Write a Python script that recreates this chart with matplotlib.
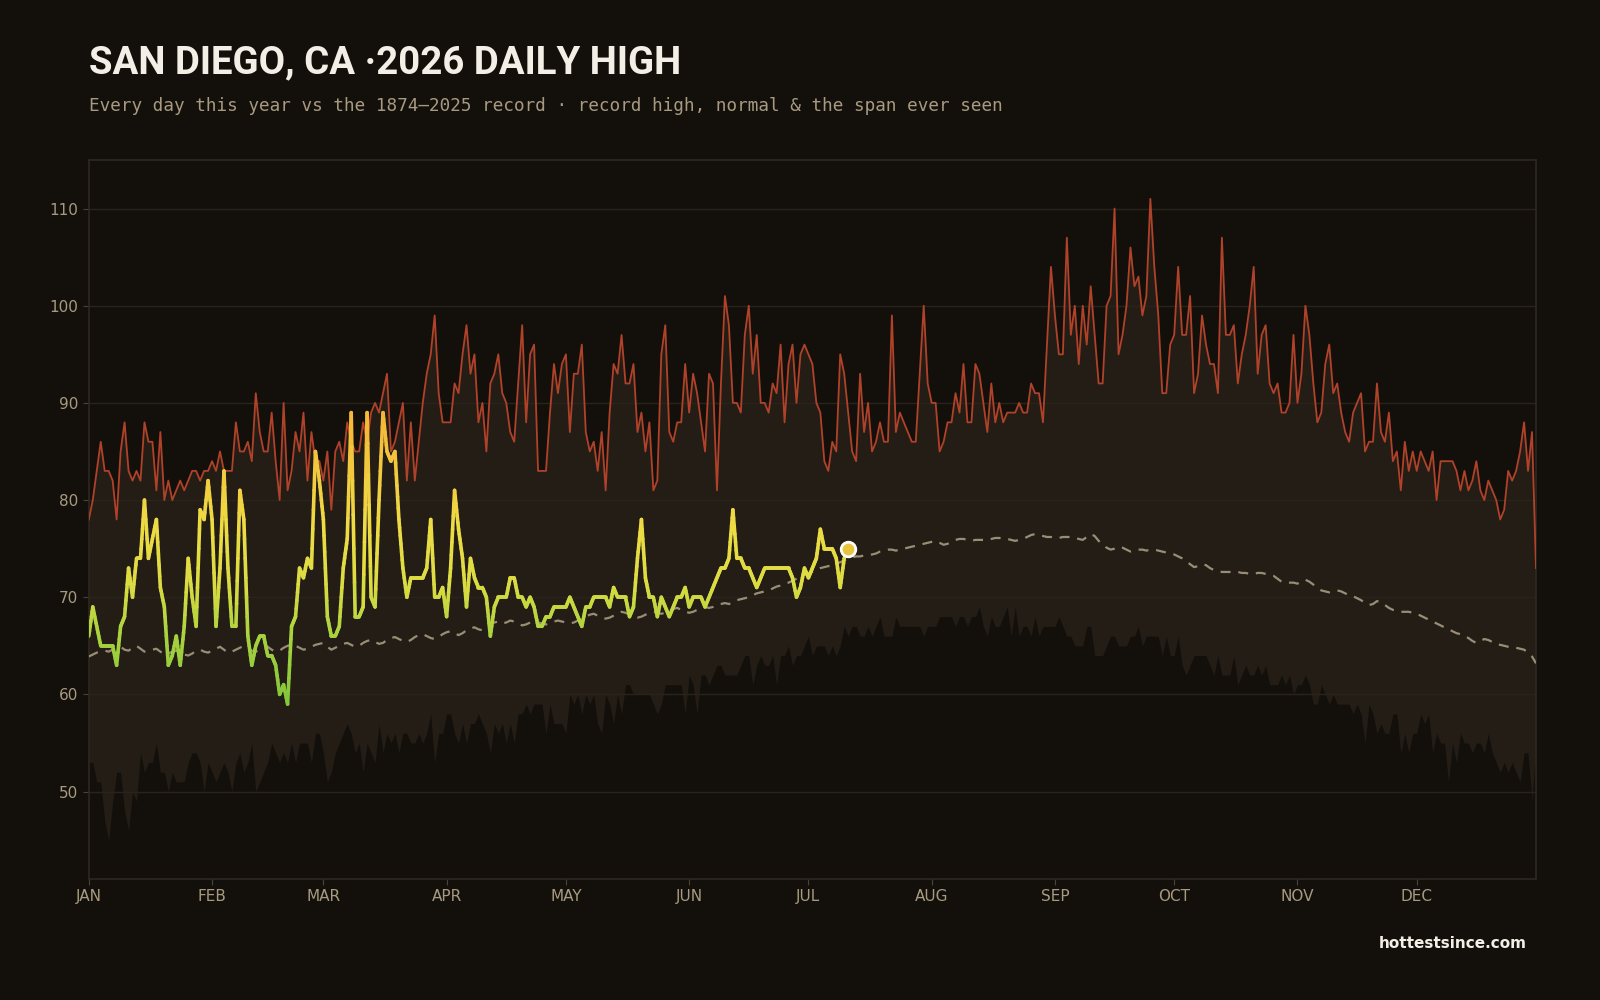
import numpy as np
import matplotlib
matplotlib.use("Agg")
import matplotlib.pyplot as plt
from matplotlib.collections import LineCollection
from matplotlib.colors import LinearSegmentedColormap

# San Diego daily highs, day 0 = Jan 1
record_high = [
    # Jan
    78, 80, 83, 86, 83, 83, 82, 78, 85, 88, 83, 82, 83, 82, 88, 86, 86, 81, 87, 80,
    82, 80, 81, 82, 81, 82, 83, 83, 82, 83, 83,
    # Feb
    84, 83, 85, 83, 83, 83, 88, 85, 85, 86, 84, 91, 87, 85, 85, 89, 84, 80, 90, 81,
    83, 87, 85, 89, 82, 87, 84, 84,
    # Mar
    82, 85, 79, 85, 86, 84, 88, 86, 85, 85, 88, 86, 89, 90, 89, 91, 93, 85, 86, 88,
    90, 82, 88, 82, 86, 90, 93, 95, 99, 91, 88,
    # Apr
    88, 88, 92, 91, 95, 98, 93, 95, 88, 90, 85, 92, 93, 95, 91, 90, 87, 86, 92, 98,
    88, 95, 96, 83, 83, 83, 89, 94, 91, 94,
    # May
    95, 87, 93, 93, 96, 87, 85, 86, 83, 87, 81, 89, 94, 93, 97, 92, 92, 94, 87, 89,
    85, 88, 81, 82, 95, 98, 87, 86, 88, 88, 94,
    # Jun
    89, 93, 91, 88, 85, 93, 92, 81, 92, 101, 98, 90, 90, 89, 97, 100, 93, 97, 90, 90,
    89, 92, 91, 96, 88, 94, 96, 90, 95, 96,
    # Jul
    95, 94, 90, 89, 84, 83, 86, 85, 95, 93, 89, 85, 84, 93, 87, 90, 85, 86, 88, 86,
    86, 99, 87, 89, 88, 87, 86, 86, 93, 100, 92,
    # Aug
    90, 90, 85, 86, 88, 88, 91, 89, 94, 88, 88, 94, 93, 90, 87, 92, 88, 90, 88, 89,
    89, 89, 90, 89, 89, 92, 91, 91, 88, 96, 104,
    # Sep
    99, 95, 95, 107, 97, 100, 94, 100, 96, 102, 97, 92, 92, 100, 101, 110, 95, 97, 100, 106,
    102, 103, 99, 101, 111, 104, 99, 91, 91, 96,
    # Oct
    97, 104, 97, 97, 101, 91, 93, 99, 96, 94, 94, 91, 107, 97, 97, 98, 92, 95, 97, 100,
    104, 93, 97, 98, 92, 91, 92, 89, 89, 90, 97,
    # Nov
    90, 93, 100, 97, 92, 88, 89, 94, 96, 91, 92, 89, 87, 86, 89, 90, 91, 85, 86, 86,
    92, 87, 86, 89, 84, 85, 81, 86, 83, 85,
    # Dec
    83, 85, 84, 83, 85, 80, 84, 84, 84, 84, 83, 81, 83, 81, 82, 84, 81, 80, 82, 81,
    80, 78, 79, 83, 82, 83, 85, 88, 83, 87, 73,
]

record_low = [
    # Jan
    53, 53, 51, 51, 47, 45, 49, 52, 52, 48, 46, 50, 49, 54, 52, 53, 53, 55, 52, 52,
    50, 52, 51, 51, 51, 53, 54, 54, 53, 50, 53,
    # Feb
    52, 51, 52, 53, 52, 50, 53, 54, 52, 53, 55, 50, 51, 52, 53, 55, 54, 53, 54, 53,
    55, 53, 55, 55, 55, 53, 56, 56,
    # Mar
    54, 51, 52, 54, 55, 56, 57, 56, 54, 55, 52, 55, 54, 53, 57, 54, 56, 55, 56, 54,
    56, 56, 55, 55, 56, 55, 56, 58, 53, 56, 56,
    # Apr
    58, 58, 56, 55, 57, 55, 57, 57, 58, 57, 56, 54, 57, 56, 57, 55, 57, 55, 58, 58,
    59, 58, 59, 59, 59, 56, 59, 57, 57, 57,
    # May
    56, 60, 59, 60, 58, 60, 59, 60, 57, 56, 60, 59, 57, 60, 58, 61, 61, 60, 60, 60,
    60, 60, 59, 58, 59, 61, 61, 61, 61, 61, 58,
    # Jun
    62, 61, 58, 62, 62, 61, 62, 63, 63, 62, 62, 62, 62, 63, 64, 64, 61, 63, 64, 63,
    63, 64, 61, 64, 64, 65, 63, 64, 64, 65,
    # Jul
    66, 64, 65, 65, 65, 64, 65, 64, 65, 67, 66, 67, 67, 66, 66, 67, 66, 67, 68, 66,
    66, 66, 68, 67, 67, 67, 67, 67, 67, 66, 67,
    # Aug
    67, 67, 68, 68, 68, 68, 67, 68, 68, 67, 68, 68, 69, 67, 66, 68, 67, 67, 68, 69,
    66, 69, 66, 67, 67, 66, 68, 66, 67, 67, 67,
    # Sep
    67, 68, 67, 66, 66, 65, 65, 65, 67, 67, 64, 64, 64, 65, 66, 66, 65, 65, 65, 66,
    66, 67, 65, 66, 66, 66, 66, 64, 66, 64,
    # Oct
    64, 66, 63, 62, 63, 64, 64, 64, 64, 63, 62, 64, 62, 62, 62, 64, 61, 62, 63, 62,
    62, 63, 62, 63, 61, 61, 61, 62, 61, 62, 60,
    # Nov
    61, 61, 62, 61, 59, 59, 61, 60, 59, 60, 59, 59, 59, 59, 58, 59, 58, 55, 59, 58,
    56, 57, 56, 56, 58, 58, 54, 56, 54, 56,
    # Dec
    56, 58, 57, 58, 54, 56, 55, 55, 51, 55, 53, 56, 55, 55, 54, 55, 55, 54, 56, 54,
    53, 52, 53, 52, 53, 52, 51, 54, 54, 49, 55,
]

normal = [
    # Jan
    63.9, 64.1, 64.3, 64.4, 64.5, 64.4, 64.6, 64.8, 64.9, 64.6, 64.5, 64.8, 65.0, 64.7, 64.4, 64.5,
    64.6, 64.7, 64.4, 64.1, 64.2, 64.4, 64.5, 64.3, 64.1, 64.0, 64.2, 64.5, 64.6, 64.4, 64.3,
    # Feb
    64.5, 64.7, 64.9, 64.6, 64.3, 64.4, 64.6, 64.8, 65.0, 64.8, 64.5, 64.4, 64.6, 64.8, 64.9, 64.6,
    64.4, 64.5, 64.8, 65.0, 65.1, 65.0, 64.8, 64.6, 64.7, 64.9, 65.1, 65.2,
    # Mar
    65.3, 64.9, 64.6, 64.8, 65.0, 65.2, 65.3, 65.1, 64.9, 65.0, 65.3, 65.5, 65.6, 65.4, 65.2, 65.3,
    65.6, 65.8, 65.9, 65.7, 65.5, 65.4, 65.6, 65.9, 66.1, 66.2, 66.0, 65.8, 65.7, 65.9, 66.2,
    # Apr
    66.4, 66.5, 66.3, 66.1, 66.3, 66.6, 66.8, 66.9, 66.7, 66.6, 66.9, 67.2, 67.4, 67.5, 67.3,
    67.4, 67.6, 67.5, 67.3, 67.1, 67.2, 67.4, 67.5, 67.4, 67.3, 67.2, 67.3, 67.5, 67.6, 67.5,
    # May
    67.4, 67.3, 67.4, 67.6, 67.8, 68.0, 68.2, 68.3, 68.1, 67.9, 67.8, 67.9, 68.1, 68.3, 68.5, 68.4,
    68.2, 68.0, 67.9, 68.0, 68.2, 68.4, 68.5, 68.4, 68.3, 68.4, 68.6, 68.8, 68.9, 68.7, 68.5,
    # Jun
    68.4, 68.5, 68.7, 68.9, 69.0, 68.9, 69.0, 69.2, 69.3, 69.4, 69.3, 69.5, 69.7, 69.8, 69.9,
    70.0, 70.2, 70.4, 70.5, 70.6, 70.7, 70.9, 71.1, 71.2, 71.4, 71.5, 71.7, 71.9, 72.1, 72.3,
    # Jul
    72.5, 72.6, 72.8, 73.0, 73.1, 73.2, 73.3, 73.5, 73.6, 73.8, 74.0, 74.1, 74.2, 74.2, 74.3, 74.3,
    74.4, 74.5, 74.7, 74.8, 74.9, 74.9, 74.8, 74.9, 75.0, 75.1, 75.2, 75.3, 75.4, 75.5, 75.6,
    # Aug
    75.7, 75.8, 75.6, 75.4, 75.5, 75.7, 75.9, 76.0, 76.0, 75.9, 75.8, 75.9, 75.9, 75.9, 75.9, 76.0,
    76.1, 76.1, 76.0, 76.0, 75.9, 75.8, 75.9, 76.0, 76.2, 76.4, 76.5, 76.4, 76.3, 76.2, 76.2,
    # Sep
    76.1, 76.1, 76.2, 76.2, 76.2, 76.1, 76.0, 75.9, 76.2, 76.5, 76.3, 75.8, 75.4, 75.1, 74.9,
    75.0, 75.2, 75.1, 74.9, 74.7, 74.8, 74.9, 74.9, 74.8, 74.9, 74.9, 74.8, 74.7, 74.6, 74.5,
    # Oct
    74.4, 74.2, 74.0, 73.7, 73.4, 73.1, 73.2, 73.4, 73.3, 73.0, 72.8, 72.7, 72.6, 72.6, 72.6, 72.6,
    72.6, 72.5, 72.5, 72.4, 72.4, 72.5, 72.5, 72.4, 72.3, 72.2, 71.9, 71.6, 71.5, 71.5, 71.5,
    # Nov
    71.4, 71.6, 71.8, 71.6, 71.3, 71.0, 70.7, 70.6, 70.5, 70.6, 70.7, 70.6, 70.4, 70.2, 70.1,
    69.9, 69.7, 69.4, 69.2, 69.3, 69.6, 69.5, 69.2, 68.9, 68.7, 68.6, 68.5, 68.5, 68.5, 68.4,
    # Dec
    68.3, 68.1, 67.9, 67.7, 67.5, 67.3, 67.1, 66.9, 66.7, 66.5, 66.3, 66.2, 66.0, 65.8, 65.5, 65.3,
    65.5, 65.7, 65.6, 65.4, 65.2, 65.1, 65.0, 64.9, 64.8, 64.8, 64.7, 64.6, 64.3, 63.9, 63.2,
]

# 2026 observed, Jan 1 .. Jul 11
obs_2026 = [
    # Jan
    66, 69, 67, 65, 65, 65, 65, 63, 67, 68, 73, 70, 74, 74, 80, 74, 76, 78, 71, 69,
    63, 64, 66, 63, 67, 74, 70, 67, 79, 78, 82,
    # Feb
    78, 67, 73, 83, 73, 67, 67, 81, 78, 66, 63, 65, 66, 66, 64, 64, 63, 60, 61, 59,
    67, 68, 73, 72, 74, 73, 85, 82,
    # Mar
    78, 68, 66, 66, 67, 73, 76, 89, 68, 68, 69, 89, 70, 69, 80, 89, 85, 84, 85, 78,
    73, 70, 72, 72, 72, 72, 73, 78, 70, 70, 71,
    # Apr
    68, 73, 81, 77, 74, 69, 74, 72, 71, 71, 70, 66, 69, 70, 70, 70, 72, 72, 70, 70,
    69, 70, 69, 67, 67, 68, 68, 69, 69, 69,
    # May
    69, 70, 69, 68, 67, 69, 69, 70, 70, 70, 70, 69, 71, 70, 70, 70, 68, 69, 74, 78,
    72, 70, 70, 68, 70, 69, 68, 69, 70, 70, 71,
    # Jun
    69, 70, 70, 70, 69, 70, 71, 72, 73, 73, 74, 79, 74, 74, 73, 73, 72, 71, 72, 73,
    73, 73, 73, 73, 73, 73, 72, 70, 71, 73,
    # Jul
    72, 73, 74, 77, 75, 75, 75, 74, 71, 74, 75,
]

month_labels = ["JAN", "FEB", "MAR", "APR", "MAY", "JUN",
                "JUL", "AUG", "SEP", "OCT", "NOV", "DEC"]
month_days = [31, 28, 31, 30, 31, 30, 31, 31, 30, 31, 30, 31]

# colours
bg = "#13100c"
band = "#231d16"
rust = "#b04229"
tan = "#a89a80"

days = np.arange(len(record_high))
obs_days = np.arange(len(obs_2026))
month_starts = np.concatenate([[0], np.cumsum(month_days)[:-1]])

fig = plt.figure(figsize=(16, 10), dpi=100, facecolor=bg)
ax = fig.add_axes([0.0555, 0.121, 0.9045, 0.719])
ax.set_facecolor(bg)

# span ever seen
ax.fill_between(days, record_low, record_high, color=band, lw=0, zorder=1)
ax.plot(days, record_high, color=rust, lw=1.3, zorder=3)
ax.plot(days, normal, color="#9a8d76", lw=1.6, ls=(0, (4.5, 3.5)), zorder=3)

# 2026 line coloured by temperature, split each step for a smooth gradient
cmap = LinearSegmentedColormap.from_list(
    "heat", [(0.0, "#7cc43a"), (0.25, "#a8d23e"), (0.42, "#dcdc42"),
             (0.6, "#eedc44"), (0.8, "#f2c83e"), (1.0, "#f5b236")])
segs, vals = [], []
sub = 6
for i in range(len(obs_2026) - 1):
    for k in range(sub):
        t0, t1 = k / sub, (k + 1) / sub
        x0 = obs_days[i] + t0
        x1 = obs_days[i] + t1
        y0 = obs_2026[i] + (obs_2026[i + 1] - obs_2026[i]) * t0
        y1 = obs_2026[i] + (obs_2026[i + 1] - obs_2026[i]) * t1
        segs.append([(x0, y0), (x1, y1)])
        vals.append((y0 + y1) / 2)
lc = LineCollection(segs, cmap=cmap, norm=plt.Normalize(58, 90),
                    linewidths=2.6, capstyle="round", joinstyle="round", zorder=5)
lc.set_array(np.array(vals))
ax.add_collection(lc)

ax.scatter([obs_days[-1]], [obs_2026[-1]], s=110, color="#e8c53c",
           edgecolor="white", linewidth=2, zorder=6)

ax.set_xlim(0, len(days) - 1)
ax.set_ylim(41, 115)
ax.set_yticks([50, 60, 70, 80, 90, 100, 110])
ax.set_xticks(month_starts)
ax.set_xticklabels(month_labels)
ax.grid(axis="y", color="#2a231c", lw=1, zorder=0)
ax.tick_params(colors="#4a4236", labelcolor=tan, labelsize=11, length=4)
for s in ax.spines.values():
    s.set_color("#2e2820")
    s.set_linewidth(1.2)

fig.text(0.0555, 0.937, "SAN DIEGO, CA \u00b72026 DAILY HIGH", color="#f3efe6",
         fontsize=27.6, fontweight="bold", family="Roboto", va="center")
fig.text(0.0555, 0.894,
         "Every day this year vs the 1874\u20132025 record \u00b7 record high, normal & the span ever seen",
         color=tan, fontsize=12.7, family="DejaVu Sans Mono", va="center")
fig.text(0.954, 0.056, "hottestsince.com", color="#f3efe6", fontsize=11,
         fontweight="bold", family="DejaVu Sans", ha="right", va="center")

fig.savefig("out.png", dpi=100, facecolor=bg)
